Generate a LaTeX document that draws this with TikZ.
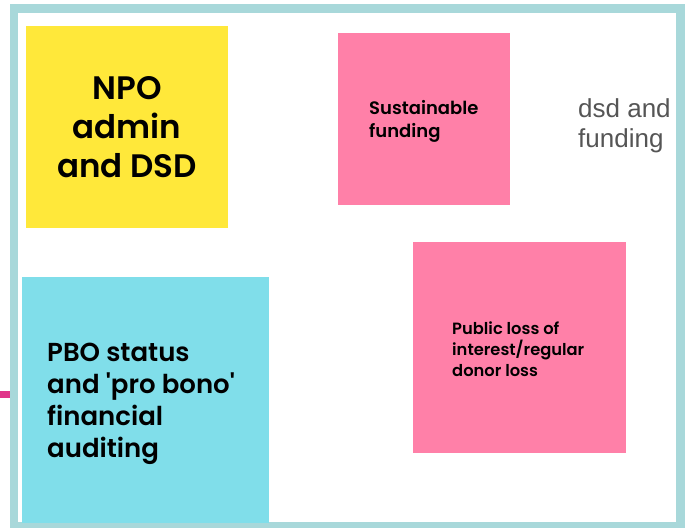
\documentclass[tikz,border=0pt]{standalone}
\usepackage{fontspec}
\setmainfont{Poppins}[Ligatures=TeXOff, BoldFont={Poppins SemiBold}]
\newfontfamily\notefont{Liberation Sans}
\definecolor{framec}{HTML}{A8D8DA}
\definecolor{stickyyellow}{HTML}{FFE83A}
\definecolor{stickycyan}{HTML}{80DEEA}
\definecolor{stickypink}{HTML}{FF80A8}
\definecolor{stubpink}{HTML}{E0358A}
\definecolor{notegray}{HTML}{555555}
\begin{document}
\begin{tikzpicture}[x=1pt,y=-1pt,
  sticky/.style={draw=none, inner sep=0pt, anchor=north west},
  label/.style={inner sep=0pt, text=black, font=\bfseries},
  ]
\useasboundingbox (0,0) rectangle (690,529);
% board frame
\fill[framec] (10,4) rectangle (685,528);
\fill[white] (18,13) rectangle (676,522);
% sticky notes
\node[sticky, fill=stickyyellow, minimum width=202pt, minimum height=202pt] (npo) at (26,26) {};
\node[sticky, fill=stickypink, minimum width=172pt, minimum height=172pt] (fund) at (338,33) {};
\node[sticky, fill=stickycyan, minimum width=247pt, minimum height=246pt] (pbo) at (22,277) {};
\node[sticky, fill=stickypink, minimum width=213pt, minimum height=211pt] (loss) at (413,242) {};
% texts (anchored at the baseline of the last line)
\node[label, align=center, anchor=base, font=\bfseries\fontsize{32.5}{39}\selectfont] (npotext) at (127,178) {NPO\\admin\\and DSD};
\node[label, align=left, anchor=base west, font=\bfseries\fontsize{18}{23}\selectfont] (fundtext) at (369,138) {Sustainable\\funding};
\node[label, align=left, anchor=base west, font=\bfseries\fontsize{26}{32}\selectfont] (pbotext) at (47,457) {PBO status\\and 'pro bono'\\financial\\auditing};
\node[label, align=left, anchor=base west, font=\bfseries\fontsize{16.3}{21}\selectfont] (losstext) at (452,376) {Public loss of\\interest/regular\\donor loss};
\node[inner sep=0pt, align=left, anchor=base west, text=notegray, font=\notefont\fontsize{26}{30}\selectfont] (note) at (578,148) {dsd and\\funding};
% connector stub entering from the left edge
\coordinate (stubA) at (0,394);
\coordinate (stubB) at (10,394);
\draw[stubpink, line width=7pt] (stubA) -- (stubB);
\end{tikzpicture}
\end{document}
